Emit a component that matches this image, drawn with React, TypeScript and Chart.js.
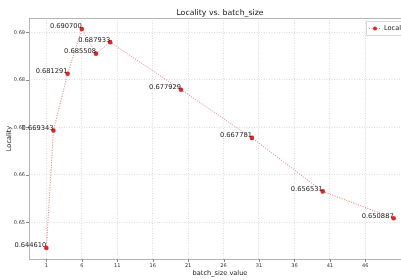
import React, { useEffect, useRef } from "react";
import { Chart, registerables } from "chart.js";

Chart.register(...registerables);

const batchSizes = [1, 2, 4, 6, 8, 10, 20, 30, 40, 50];
const locality = [0.64461, 0.669343, 0.681291, 0.6907, 0.685508, 0.687933, 0.677929, 0.667781, 0.656531, 0.650887];
const xTicks = [1, 6, 11, 16, 21, 26, 31, 36, 41, 46];
const yTicks = [0.65, 0.66, 0.67, 0.68, 0.69];
const titleText = "Locality vs. batch_size";
const xTitle = "batch_size value";
const yTitle = "Locality";
const seriesName = "Locality";

const FONT = "'DejaVu Sans', sans-serif";
const RED = "#e0242a";
const LINE = "rgba(228,70,70,0.75)";

const overlay = {
  id: "overlay",
  afterDraw(chart: any) {
    const { ctx, chartArea } = chart;
    const xs = chart.scales.x;
    const ys = chart.scales.y;
    ctx.save();
    // box spines
    ctx.strokeStyle = "#b5b5b5";
    ctx.lineWidth = 1;
    ctx.setLineDash([]);
    ctx.strokeRect(chartArea.left + 0.5, chartArea.top + 0.5, chartArea.right - chartArea.left, chartArea.bottom - chartArea.top);
    // tick marks
    ctx.strokeStyle = "#888";
    for (const t of xTicks) {
      const px = Math.round(xs.getPixelForValue(t)) + 0.5;
      ctx.beginPath();
      ctx.moveTo(px, chartArea.bottom);
      ctx.lineTo(px, chartArea.bottom + 3);
      ctx.stroke();
    }
    for (const t of yTicks) {
      const py = Math.round(ys.getPixelForValue(t)) + 0.5;
      ctx.beginPath();
      ctx.moveTo(chartArea.left, py);
      ctx.lineTo(chartArea.left - 3, py);
      ctx.stroke();
    }
    // title
    ctx.fillStyle = "#1a1a1a";
    ctx.font = `7.8px ${FONT}`;
    ctx.textAlign = "center";
    ctx.textBaseline = "alphabetic";
    ctx.fillText(titleText, (chartArea.left + chartArea.right) / 2, 15);
    // axis titles
    ctx.font = `6.6px ${FONT}`;
    ctx.fillText(xTitle, (chartArea.left + chartArea.right) / 2, 275);
    ctx.save();
    ctx.translate(11, (chartArea.top + chartArea.bottom) / 2);
    ctx.rotate(-Math.PI / 2);
    ctx.fillText(yTitle, 0, 0);
    ctx.restore();
    // data labels
    ctx.font = `6.7px ${FONT}`;
    ctx.fillStyle = "#1a1a1a";
    ctx.textAlign = "right";
    ctx.textBaseline = "bottom";
    const meta = chart.getDatasetMeta(0);
    meta.data.forEach((pt: any, i: number) => {
      ctx.fillText(locality[i].toFixed(6), pt.x, pt.y + 1);
    });
    // legend
    const lx = 366, ly = 21;
    ctx.fillStyle = "rgba(255,255,255,0.9)";
    ctx.strokeStyle = "#d8d8d8";
    ctx.fillRect(lx, ly, 60, 14);
    ctx.strokeRect(lx + 0.5, ly + 0.5, 60, 14);
    ctx.strokeStyle = LINE;
    ctx.setLineDash([1, 1.5]);
    ctx.beginPath();
    ctx.moveTo(lx + 3, ly + 7.5);
    ctx.lineTo(lx + 15, ly + 7.5);
    ctx.stroke();
    ctx.setLineDash([]);
    ctx.fillStyle = RED;
    ctx.beginPath();
    ctx.arc(lx + 9, ly + 7.5, 2, 0, Math.PI * 2);
    ctx.fill();
    ctx.fillStyle = "#1a1a1a";
    ctx.textAlign = "left";
    ctx.textBaseline = "middle";
    ctx.font = `6.6px ${FONT}`;
    ctx.fillText(seriesName, lx + 18, ly + 7.5);
    ctx.restore();
  },
};

export default function App() {
  const ref = useRef<HTMLCanvasElement>(null);
  useEffect(() => {
    document.body.style.margin = "0";
    const chart = new Chart(ref.current!, {
      type: "line",
      data: {
        datasets: [
          {
            label: seriesName,
            data: batchSizes.map((b, i) => ({ x: b, y: locality[i] })),
            borderColor: LINE,
            borderWidth: 1,
            borderDash: [1, 1.5],
            pointBackgroundColor: RED,
            pointBorderColor: RED,
            pointBorderWidth: 0,
            pointRadius: 2.3,
            tension: 0,
          },
        ],
      },
      options: {
        animation: false,
        responsive: false,
        devicePixelRatio: 1,
        layout: { padding: { top: 18, right: 9, left: 0, bottom: 0 } },
        plugins: { legend: { display: false }, title: { display: false }, tooltip: { enabled: false } },
        scales: {
          x: {
            type: "linear",
            min: -1.45,
            max: 52.45,
            afterBuildTicks: (s: any) => {
              s.ticks = xTicks.map((v) => ({ value: v }));
            },
            afterFit: (s: any) => {
              s.height = 21;
            },
            ticks: { font: { family: FONT, size: 5 }, color: "#333", padding: 4, maxRotation: 0, autoSkip: false, callback: (v: any) => String(v) },
            grid: { color: "#dcdcdc", drawTicks: false, lineWidth: 1 },
            border: { display: false, dash: [1, 1.5] },
          },
          y: {
            type: "linear",
            min: 0.64231,
            max: 0.69301,
            afterBuildTicks: (s: any) => {
              s.ticks = yTicks.map((v) => ({ value: v }));
            },
            afterFit: (s: any) => {
              s.width = 29;
            },
            ticks: { font: { family: FONT, size: 5 }, color: "#333", padding: 4, autoSkip: false, callback: (v: any) => Number(v).toFixed(2) },
            grid: { color: "#dcdcdc", drawTicks: false, lineWidth: 1 },
            border: { display: false, dash: [1, 1.5] },
          },
        },
      },
      plugins: [overlay],
    });
    return () => chart.destroy();
  }, []);
  return (
    <div style={{ width: 401, height: 280, overflow: "hidden" }}>
      <canvas ref={ref} width={420} height={280} style={{ display: "block" }} />
    </div>
  );
}
